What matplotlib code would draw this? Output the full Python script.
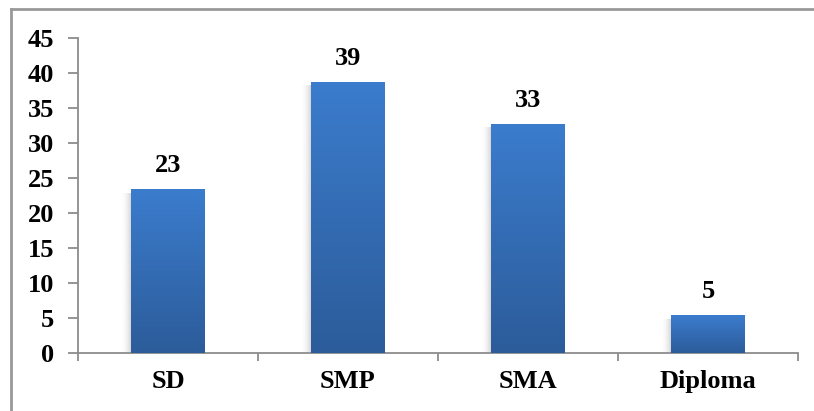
import matplotlib
matplotlib.use("Agg")
from matplotlib import pyplot as plt
from matplotlib.colors import LinearSegmentedColormap
from matplotlib.lines import Line2D
import numpy as np

categories = ["SD", "SMP", "SMA", "Diploma"]
values = [23.3, 38.7, 32.7, 5.3]
yticks = [0, 5, 10, 15, 20, 25, 30, 35, 40, 45]

plt.rcParams["font.family"] = ["Liberation Serif", "DejaVu Serif"]
plt.rcParams["font.weight"] = "bold"
plt.rcParams["font.size"] = 19

axis_grey = "#8c8c8c"
bar_cmap = LinearSegmentedColormap.from_list("bar", ["#2c5c9a", "#3b7ccd"])

fig = plt.figure(figsize=(8.14, 4.11), dpi=100)
ax = fig.add_axes([0.0958, 0.141, 0.8845, 0.7665])

x = np.arange(len(categories))
bars = ax.bar(x, values, width=0.41, color="none", zorder=3)

# gradient fill + soft shadow on the left of each bar
grad = np.linspace(0, 1, 256).reshape(-1, 1)
shadow = np.zeros((1, 64, 4))
shadow[..., :3] = 0.4
shadow[0, :, 3] = 0.4 * np.linspace(0, 1, 64) ** 2.2
for b in bars:
    x0, w, h = b.get_x(), b.get_width(), b.get_height()
    ax.imshow(shadow, extent=[x0 - 0.06, x0 + 0.01, 0, h - 0.5], aspect="auto",
              zorder=2, interpolation="bilinear")
    ax.imshow(grad, extent=[x0, x0 + w, 0, h], cmap=bar_cmap, aspect="auto",
              origin="lower", zorder=3, interpolation="bilinear")

for b, v in zip(bars, values):
    ax.annotate("%.0f" % v, (b.get_x() + b.get_width() / 2, b.get_height()),
                xytext=(0, 9), textcoords="offset points",
                ha="center", va="bottom", fontweight="bold")

ax.set_xlim(-0.5, len(categories) - 0.5)
ax.set_ylim(0, 45)
ax.set_yticks(yticks)
ax.set_xticks(x)
ax.set_xticklabels(categories)
ax.set_xticks(np.arange(-0.5, len(categories)), minor=True)

for s in ["top", "right"]:
    ax.spines[s].set_visible(False)
for s in ["left", "bottom"]:
    ax.spines[s].set_color(axis_grey)
    ax.spines[s].set_linewidth(1.3)

ax.tick_params(axis="y", direction="out", length=7, width=1.3,
               color=axis_grey, pad=10)
ax.tick_params(axis="x", which="major", length=0, pad=12)
ax.tick_params(axis="x", which="minor", direction="out", length=6,
               width=1.3, color=axis_grey)

# outer chart frame (cut off at the right and bottom)
fig.add_artist(Line2D([0.0135, 1.0], [0.978, 0.978], color="#999999",
                      lw=2, transform=fig.transFigure))
fig.add_artist(Line2D([0.0135, 0.0135], [0.0, 0.978], color="#999999",
                      lw=2, transform=fig.transFigure))

fig.savefig("out.png", dpi=100)
